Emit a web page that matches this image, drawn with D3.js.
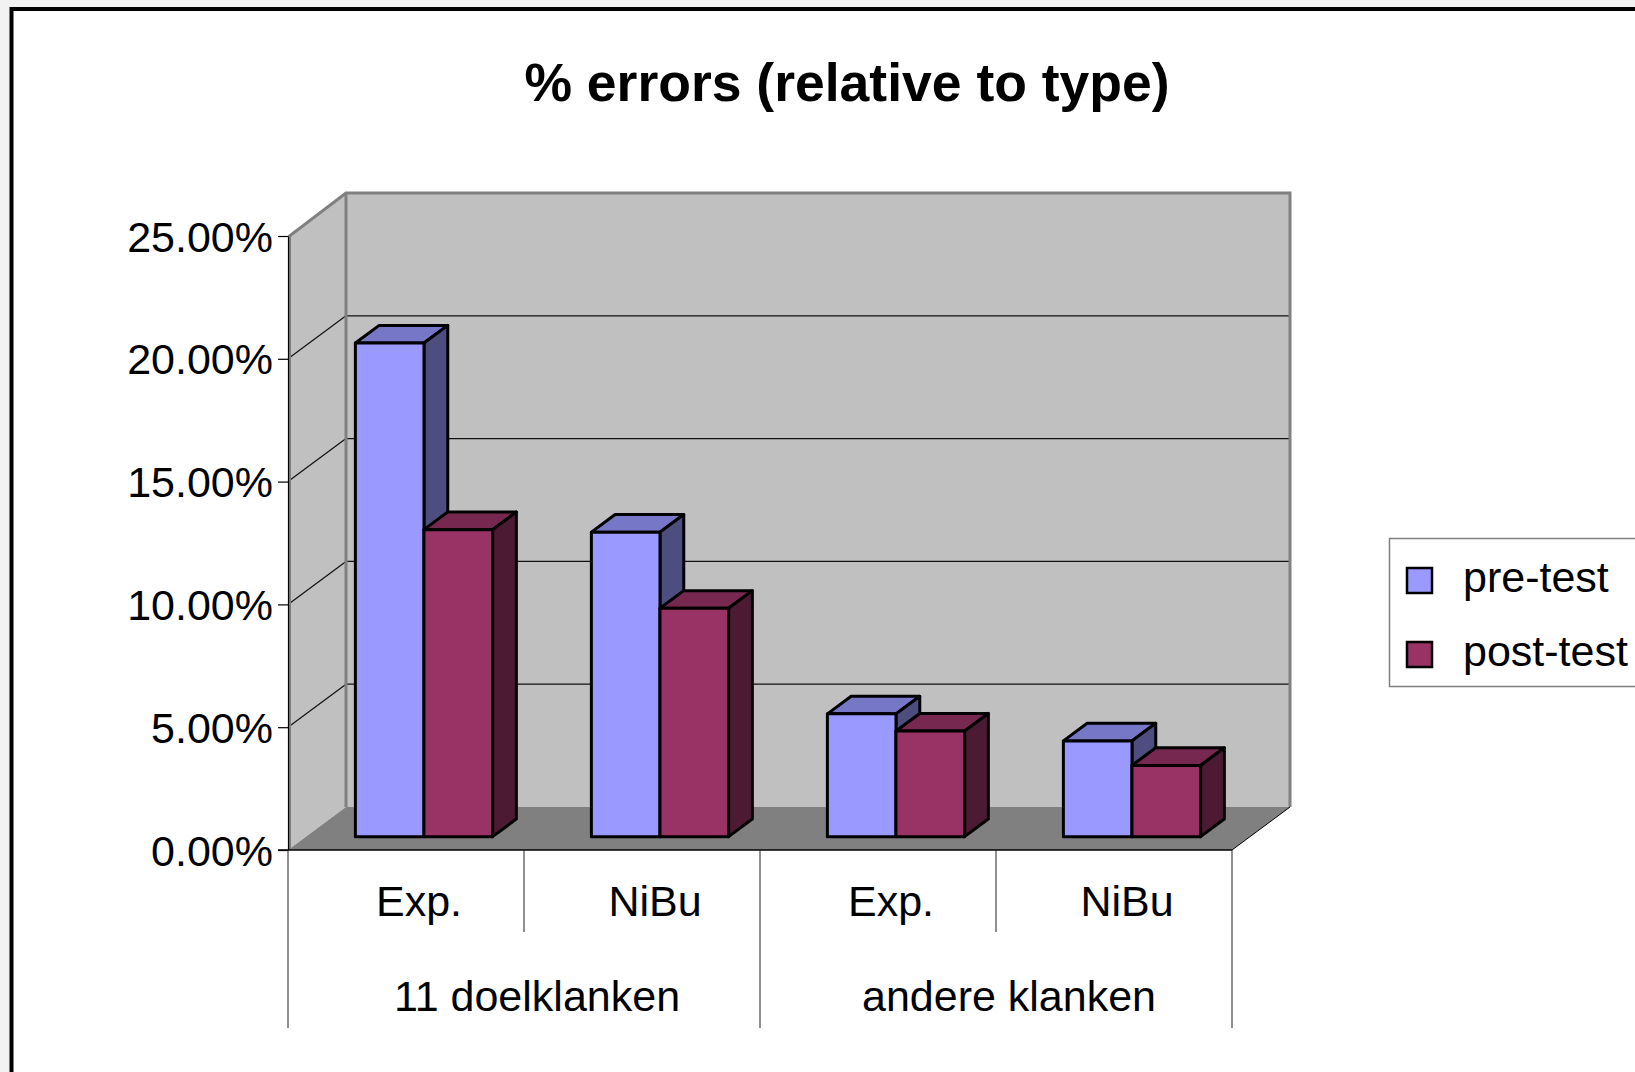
<!DOCTYPE html>
<html>
<head>
<meta charset="utf-8">
<script src="https://cdn.jsdelivr.net/npm/d3@7"></script>
<style>
  html, body { margin: 0; padding: 0; background: #f2f2f2; overflow: hidden; }
  svg { display: block; font-family: "Liberation Sans", Arial, sans-serif; }
</style>
</head>
<body>
<div id="chart"></div>
<script>
// data
var categories = ["Exp.", "NiBu", "Exp.", "NiBu"];
var groups = ["11 doelklanken", "andere klanken"];
var seriesNames = ["pre-test", "post-test"];
var preTest = [20.1, 12.4, 5.0, 3.9];
var postTest = [12.5, 9.3, 4.3, 2.9];
var yTicks = [0, 5, 10, 15, 20, 25];

var colors = ["#9999ff", "#993366"];

var width = 1635, height = 1072;
var fontSize = 43;

var svg = d3.select("#chart").append("svg")
    .attr("width", width)
    .attr("height", height);

// chart frame
svg.append("rect")
    .attr("x", 11.5).attr("y", 9)
    .attr("width", 1700).attr("height", 1100)
    .attr("fill", "#ffffff")
    .attr("stroke", "#000")
    .attr("stroke-width", 4);

// title
svg.append("text")
    .attr("x", 847).attr("y", 101)
    .attr("text-anchor", "middle")
    .attr("font-size", 53.5)
    .attr("font-weight", "bold")
    .text("% errors (relative to type)");

// scales (front plane) and depth vector
var left = 288, right = 1232;
var y = d3.scaleLinear().domain([0, 25]).range([850, 236]);
var x0 = d3.scaleBand().domain(d3.range(categories.length)).range([left, right]);
var x1 = d3.scaleBand().domain(seriesNames).range([0, x0.bandwidth()]).paddingOuter(0.72);
var DX = 58, DY = -43;
function shift(p, f) { return [p[0] + DX * f, p[1] + DY * f]; }

var walls = svg.append("g");

// side wall
walls.append("polygon")
    .attr("points", [[left, y(25)], shift([left, y(25)], 1), shift([left, y(0)], 1), [left, y(0)]].join(" "))
    .attr("fill", "#c0c0c0");
// back wall
walls.append("polygon")
    .attr("points", [shift([left, y(25)], 1), shift([right, y(25)], 1), shift([right, y(0)], 1), shift([left, y(0)], 1)].join(" "))
    .attr("fill", "#c0c0c0");
// floor
walls.append("polygon")
    .attr("points", [[left, y(0)], [right, y(0)], shift([right, y(0)], 1), shift([left, y(0)], 1)].join(" "))
    .attr("fill", "#808080");

// gridlines
var grid = yTicks.filter(function (d) { return d > 0 && d < 25; });
walls.selectAll(".gback").data(grid).enter().append("line")
    .attr("x1", left + DX).attr("x2", right + DX)
    .attr("y1", function (d) { return y(d) + DY; })
    .attr("y2", function (d) { return y(d) + DY; })
    .attr("stroke", "#111").attr("stroke-width", 1.2);
walls.selectAll(".gside").data(grid).enter().append("line")
    .attr("x1", left).attr("x2", left + DX)
    .attr("y1", function (d) { return y(d); })
    .attr("y2", function (d) { return y(d) + DY; })
    .attr("stroke", "#111").attr("stroke-width", 1.2);

// wall edges (gray)
walls.append("path")
    .attr("d", d3.line()([[left + 1.5, y(0) - 1], [left + 1.5, y(25)], shift([left, y(25)], 1), shift([right, y(25)], 1), shift([right, y(0)], 1)]))
    .attr("fill", "none").attr("stroke", "#808080").attr("stroke-width", 3);
walls.append("line")
    .attr("x1", left + DX).attr("x2", left + DX)
    .attr("y1", y(25) + DY).attr("y2", y(0) + DY)
    .attr("stroke", "#808080").attr("stroke-width", 3);
// floor right edge
walls.append("line")
    .attr("x1", right).attr("y1", y(0))
    .attr("x2", right + DX).attr("y2", y(0) + DY)
    .attr("stroke", "#000").attr("stroke-width", 1);

// bars
var f1 = 0.31, f2 = 0.72;
var depth = f2 - f1;
var barData = [];
for (let i = 0; i < categories.length; i++) {
    barData.push({ cat: i, s: 0, v: preTest[i] });
    barData.push({ cat: i, s: 1, v: postTest[i] });
}

function shade(c, k) {
    var col = d3.rgb(c);
    return d3.rgb(col.r * k, col.g * k, col.b * k).formatHex();
}

var bars = svg.append("g");
barData.forEach(function (d) {
    var xl = x0(d.cat) + x1(seriesNames[d.s]) + DX * f1;
    var xr = xl + x1.bandwidth();
    var yt = y(d.v) + DY * f1;
    var yb = y(0) + DY * f1;
    var g = bars.append("g")
        .attr("stroke", "#000").attr("stroke-width", 3).attr("stroke-linejoin", "round");
    // top
    g.append("polygon")
        .attr("points", [[xl, yt], [xr, yt], shift([xr, yt], depth), shift([xl, yt], depth)].join(" "))
        .attr("fill", shade(colors[d.s], 0.78));
    // side
    g.append("polygon")
        .attr("points", [[xr, yt], shift([xr, yt], depth), shift([xr, yb], depth), [xr, yb]].join(" "))
        .attr("fill", shade(colors[d.s], 0.5));
    // front
    g.append("rect")
        .attr("x", xl).attr("y", yt)
        .attr("width", xr - xl).attr("height", yb - yt)
        .attr("fill", colors[d.s]);
});

// y axis
var yAxis = d3.axisLeft(y)
    .tickValues(yTicks)
    .tickFormat(function (d) { return d.toFixed(2) + "%"; })
    .tickSize(10)
    .tickSizeOuter(0)
    .tickPadding(5);
var yg = svg.append("g")
    .attr("transform", "translate(" + left + ",0)")
    .call(yAxis);
yg.select(".domain").attr("stroke", "#000").attr("stroke-width", 1.2);
yg.selectAll(".tick line").attr("stroke", "#000").attr("stroke-width", 1.2);
yg.selectAll(".tick text")
    .attr("font-size", fontSize)
    .attr("font-family", "'Liberation Sans', Arial, sans-serif")
    .attr("fill", "#000")
    .attr("dy", null)
    .attr("y", 15);

// category axis
var cat = svg.append("g");
cat.append("line")
    .attr("x1", left - 10).attr("x2", right)
    .attr("y1", y(0)).attr("y2", y(0))
    .attr("stroke", "#000").attr("stroke-width", 1.5);
var bounds = d3.range(categories.length + 1).map(function (i) {
    return i < categories.length ? x0(i) : right;
});
cat.selectAll(".div").data(bounds).enter().append("line")
    .attr("x1", function (d) { return d; })
    .attr("x2", function (d) { return d; })
    .attr("y1", y(0))
    .attr("y2", function (d, i) { return i % 2 === 0 ? 1028 : 932; })
    .attr("stroke", "#222").attr("stroke-width", 1);
cat.selectAll(".clab").data(categories).enter().append("text")
    .attr("x", function (d, i) { return x0(i) + x0.bandwidth() / 2 + 13; })
    .attr("y", 916)
    .attr("text-anchor", "middle")
    .attr("font-size", fontSize)
    .text(function (d) { return d; });
cat.selectAll(".glab").data(groups).enter().append("text")
    .attr("x", function (d, i) { return x0(i * 2 + 1) + 13; })
    .attr("y", 1011)
    .attr("text-anchor", "middle")
    .attr("font-size", fontSize)
    .text(function (d) { return d; });

// legend
var legend = svg.append("g");
legend.append("rect")
    .attr("x", 1389.5).attr("y", 538.5)
    .attr("width", 300).attr("height", 148)
    .attr("fill", "#fff")
    .attr("stroke", "#808080").attr("stroke-width", 1.5);
var items = legend.selectAll(".item").data(seriesNames).enter().append("g")
    .attr("transform", function (d, i) { return "translate(1407," + (568 + i * 74) + ")"; });
items.append("rect")
    .attr("width", 25).attr("height", 25)
    .attr("fill", function (d, i) { return colors[i]; })
    .attr("stroke", "#000").attr("stroke-width", 2.5);
items.append("text")
    .attr("x", 56).attr("y", 24)
    .attr("font-size", fontSize)
    .text(function (d) { return d; });
</script>
</body>
</html>
